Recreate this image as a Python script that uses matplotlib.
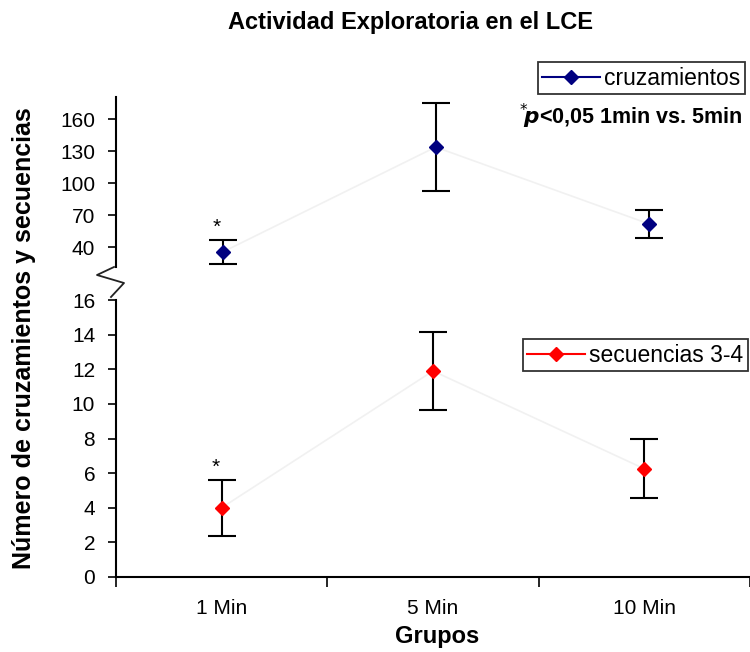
import matplotlib.pyplot as plt
from matplotlib.lines import Line2D

plt.rcParams['font.family'] = ['Liberation Sans', 'DejaVu Sans']

grupos = ['1 Min', '5 Min', '10 Min']
cruz_media = [35.5, 134.0, 62.0]
cruz_err = [11.5, 41.0, 13.0]
sec_media = [4.0, 11.9, 6.25]
sec_err = [1.63, 2.27, 1.7]

W, H = 750, 652
fig = plt.figure(figsize=(7.5, 6.52), dpi=100)

# two panels sharing the category axis, pixel boxes turned into figure fractions
def box(left, top, right, bottom):
    return [left / W, 1 - bottom / H, (right - left) / W, (bottom - top) / H]

ax_top = fig.add_axes(box(116, 97, 750, 267))
ax_bot = fig.add_axes(box(116, 300, 750, 577))

x = list(range(1, len(grupos) + 1))
faint = '#f1f1f1'

ax_top.plot(x, cruz_media, color=faint, lw=1.2, zorder=1)
ax_top.errorbar(x, cruz_media, yerr=cruz_err, fmt='none', ecolor='black',
                elinewidth=1.5, capsize=10, capthick=1.5, zorder=2)
ax_top.plot(x, cruz_media, ls='none', marker='D', ms=7, color='#000080', zorder=3)

ax_bot.plot(x, sec_media, color=faint, lw=1.2, zorder=1)
ax_bot.errorbar(x, sec_media, yerr=sec_err, fmt='none', ecolor='black',
                elinewidth=1.5, capsize=10, capthick=1.5, zorder=2)
ax_bot.plot(x, sec_media, ls='none', marker='D', ms=7, color='#ff0000', zorder=3)

for ax in (ax_top, ax_bot):
    ax.set_xlim(0.5, 3.475)
    for s in ('top', 'right'):
        ax.spines[s].set_visible(False)
    ax.spines['left'].set_linewidth(1.5)
    ax.tick_params(axis='y', direction='out', length=6, width=1.2,
                   labelsize=15, pad=9)
    ax.patch.set_alpha(0)

ax_top.set_ylim(21.5, 181)
ax_top.set_yticks([40, 70, 100, 130, 160])
ax_top.spines['bottom'].set_visible(False)
ax_top.set_xticks([])

ax_bot.set_ylim(0, 16)
ax_bot.set_yticks(range(0, 17, 2))
ax_bot.spines['bottom'].set_linewidth(1.5)
ax_bot.set_xticks(x)
ax_bot.set_xticklabels(grupos)
ax_bot.set_xticks([0.5, 1.5, 2.5, 3.5], minor=True)
ax_bot.tick_params(axis='x', which='major', length=0, labelsize=15, pad=16)
ax_bot.tick_params(axis='x', which='minor', direction='out', length=7, width=1.2)

# significance marks above the 1 Min points
ax_top.annotate('*', (x[0], cruz_media[0] + cruz_err[0]), xytext=(-4, 2),
                textcoords='offset points', ha='center', va='bottom', fontsize=15)
ax_bot.annotate('*', (x[0], sec_media[0] + sec_err[0]), xytext=(-4, 2),
                textcoords='offset points', ha='center', va='bottom', fontsize=15)

# axis break zigzag between the panels
zig_x = [114, 97, 124, 111]
zig_y = [267, 275, 283, 297]
fig.add_artist(Line2D([v / W for v in zig_x], [1 - v / H for v in zig_y],
                      transform=fig.transFigure, color='#222222', lw=1.3))

def legend_box(ax, color, label, right, top):
    leg = ax.legend([Line2D([], [], color=color, marker='D', ms=7, lw=1.5)],
                    [label], loc='upper right',
                    bbox_to_anchor=(right / W, 1 - top / H),
                    bbox_transform=fig.transFigure,
                    fontsize=16.5, frameon=True, fancybox=False, handlelength=2.5,
                    borderpad=0.2, handletextpad=0.2, borderaxespad=0)
    leg.get_frame().set_edgecolor('black')
    leg.get_frame().set_linewidth(1.3)
    return leg

legend_box(ax_top, '#000080', 'cruzamientos', 745, 62)
legend_box(ax_bot, '#ff0000', 'secuencias 3-4', 748, 339)

fig.text(743 / W, 1 - 116 / H, r'$^{*}\!\boldsymbol{p}$<0,05 1min vs. 5min',
         ha='right', va='center', fontsize=15.5, fontweight='bold')

fig.text(410 / W, 1 - 23 / H, 'Actividad Exploratoria en el LCE',
         ha='center', va='center', fontsize=17, fontweight='bold')
fig.text(24 / W, 1 - 338 / H, 'Número de cruzamientos y secuencias',
         ha='center', va='center', rotation=90, fontsize=18, fontweight='bold')
fig.text(437 / W, 1 - 637 / H, 'Grupos',
         ha='center', va='center', fontsize=17, fontweight='bold')

fig.savefig('out.png', dpi=100)
